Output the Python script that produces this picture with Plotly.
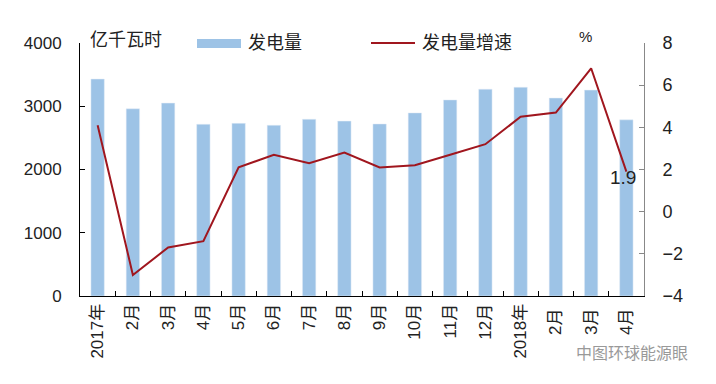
import plotly.graph_objects as go

categories = ["2017年", "2月", "3月", "4月", "5月", "6月", "7月", "8月", "9月", "10月",
              "11月", "12月", "2018年", "2月 ", "3月 ", "4月 "]
generation = [3430, 2960, 3050, 2715, 2730, 2700, 2795, 2765, 2720, 2895,
              3100, 3270, 3300, 3130, 3255, 2785]
growth = [4.1, -3.0, -1.7, -1.4, 2.1, 2.7, 2.3, 2.8, 2.1, 2.2,
          2.7, 3.2, 4.5, 4.7, 6.8, 1.9]

FONT = "Liberation Sans, Arial, Noto Sans CJK SC, sans-serif"
BAR = "#9DC3E6"
LINE = "#A0161E"
W, H = 716, 384
OFF = 8  # page body margin offset
# desired plot area in screen pixels
SL, SR, ST, SB = 80, 644, 43, 296
ML, MT = SL - OFF, ST - OFF
MR, MB = W - (SR - OFF), H - (SB - OFF)
PW, PH = W - ML - MR, H - MT - MB


def px(x):
    return (x - OFF - ML) / PW


def py(y):
    return (H - MB - (y - OFF)) / PH


fig = go.Figure()
fig.add_trace(go.Bar(x=categories, y=generation, name="发电量", marker_color=BAR,
                     width=0.38, yaxis="y", showlegend=False))
fig.add_trace(go.Scatter(x=categories, y=growth, name="发电量增速", mode="lines",
                         line=dict(color=LINE, width=2), yaxis="y2", showlegend=False))

fig.update_layout(
    width=W, height=H,
    margin=dict(l=ML, r=MR, t=MT, b=MB, autoexpand=False),
    paper_bgcolor="white", plot_bgcolor="white",
    font=dict(family=FONT, size=17, color="#222"),
    showlegend=False,
    xaxis=dict(type="category", showline=True, linecolor="black", linewidth=1,
               ticks="inside", tickson="boundaries", ticklen=5, tickcolor="black",
               tickangle=-90, tickfont=dict(size=17), showgrid=False, automargin=False),
    yaxis=dict(range=[0, 4000], dtick=1000, showline=True, linecolor="black", linewidth=1,
               ticks="inside", ticklen=5, tickcolor="black", showgrid=False, zeroline=False,
               ticklabelstandoff=14, automargin=False),
    yaxis2=dict(range=[-4, 8], dtick=2, overlaying="y", side="right", showline=True,
                linecolor="#888", linewidth=1, ticks="inside", ticklen=5, tickcolor="#888",
                showgrid=False, zeroline=False, ticklabelstandoff=14, automargin=False,
                tickfont=dict(size=18)),
)

# custom legend
fig.add_shape(type="rect", xref="paper", yref="paper", x0=px(197), x1=px(241),
              y0=py(48), y1=py(39), fillcolor=BAR, line_width=0)
fig.add_annotation(text="发电量", xref="paper", yref="paper", x=px(246), y=py(43),
                   xanchor="left", yanchor="middle", showarrow=False, font=dict(size=18))
fig.add_shape(type="line", xref="paper", yref="paper", x0=px(371), x1=px(415),
              y0=py(43), y1=py(43), line=dict(color=LINE, width=2))
fig.add_annotation(text="发电量增速", xref="paper", yref="paper", x=px(420), y=py(43),
                   xanchor="left", yanchor="middle", showarrow=False, font=dict(size=18))

fig.add_annotation(text="亿千瓦时", xref="paper", yref="paper", x=px(88), y=py(40),
                   xanchor="left", yanchor="middle", showarrow=False, font=dict(size=18))
fig.add_annotation(text="%", xref="paper", yref="paper", x=px(585), y=py(37),
                   xanchor="center", yanchor="middle", showarrow=False, font=dict(size=15))
fig.add_annotation(text="1.9", x=categories[-1], y=growth[-1], yref="y2",
                   xanchor="right", yanchor="middle", xshift=12, yshift=-6, showarrow=False,
                   font=dict(size=19))
fig.add_annotation(text="中图环球能源眼", xref="paper", yref="paper", x=px(690), y=py(353),
                   xanchor="right", yanchor="middle", showarrow=False,
                   font=dict(size=16, color="#999"))

fig.write_html("out.html")
